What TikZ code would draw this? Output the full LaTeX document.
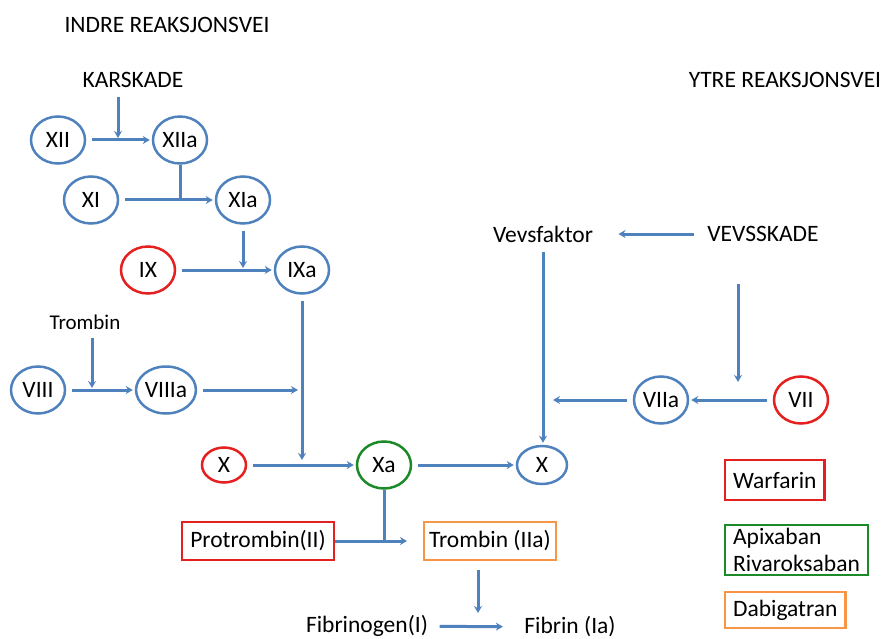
\documentclass[tikz,border=0pt]{standalone}
\usepackage{fontspec}
\setmainfont{Carlito}
\usepackage{tikz}
\usetikzlibrary{positioning,calc,arrows.meta,shapes.geometric}
\definecolor{fblue}{RGB}{79,129,189}
\definecolor{fred}{RGB}{228,32,32}
\definecolor{fgreen}{RGB}{28,138,40}
\definecolor{forange}{RGB}{247,150,70}
\tikzset{fac/.style={ellipse, draw=fblue, line width=2.5pt, minimum width=54pt, minimum height=47pt, inner sep=0pt}}
\tikzset{facred/.style={fac, draw=fred}}
\tikzset{drug/.style={draw, line width=2.2pt, inner xsep=8pt, minimum height=38pt, align=left}}
\tikzset{arr/.style={draw=fblue, line width=3pt, -{Stealth[length=7pt,width=8pt]}, shorten <=6pt, shorten >=2pt}}
\tikzset{ln/.style={draw=fblue, line width=3pt}}

\begin{document}
\begin{tikzpicture}[x=1pt, y=-1pt, every node/.append style={font=\fontsize{23.5}{27}\selectfont}]
	\useasboundingbox (0,0) rectangle (883,639);
	% headings
	\node (indre) at (167,25) {INDRE REAKSJONSVEI};
	\node (ytre) at (785,80) {YTRE REAKSJONSVEI};
	\node (kar) at (133,80) {KARSKADE};
	%
	\node[fac] (XII) at (58,140) {XII};
	\node[fac] (XIIa) at (180,140) {XIIa};
	\node[fac] (XI) at (91,200) {XI};
	\node[fac] (XIa) at (243,200) {XIa};
	\node[facred] (IX) at (148,270) {IX};
	\node[fac] (IXa) at (302,270) {IXa};
	\node[font=\fontsize{21}{24}\selectfont] (trb) at (85,322) {Trombin};
	\node[fac] (VIII) at (38,390) {VIII};
	\node[fac] (VIIIa) at (166,390) {VIIIa};
	\node[facred, minimum width=44pt, minimum height=35pt] (Xr) at (224,465) {X};
	\node[fac, draw=fgreen] (Xa) at (384,465) {Xa};
	\node[fac, minimum width=50pt, minimum height=38pt] (Xb) at (542,465) {X};
	% ytre
	\node (vevsf) at (543,234) {Vevsfaktor};
	\node (vevss) at (763,234) {VEVSSKADE};
	\node[fac] (VIIa) at (661,400) {VIIa};
	\node[facred] (VII) at (801,400) {VII};
	% felles
	\node[drug, draw=fred] (protr) at (258,541) {Protrombin(II)};
	\node[drug, draw=forange, inner xsep=5pt] (trbIIa) at (490,541) {Trombin (IIa)};
	\node (fibg) at (367,626) {Fibrinogen(I)};
	\node (fib) at (570,627) {Fibrin (Ia)};
	% legend
	\node[drug, draw=fred, anchor=west, minimum height=40pt] (warf) at (724,480) {Warfarin};
	\node[drug, draw=fgreen, anchor=west] (apix) at (724,550) {Apixaban\\Rivaroksaban};
	\node[drug, draw=forange, anchor=west, minimum height=36pt] (dabi) at (724,610) {Dabigatran};
	%
	\coordinate (k1) at (118,97);
	\coordinate (t1) at (92,338);
	\coordinate (v1) at (738,284);
	\coordinate (t2) at (478,562);
	%
	\draw[arr, shorten <=0pt] (k1) -- (k1 |- XII);
	\draw[arr] (XII) -- (XIIa);
	\draw[ln] (XIIa) -- (XIIa |- XI);
	\draw[arr] (XI) -- (XIa);
	\draw[arr] (XIa) -- (XIa |- IX);
	\draw[arr] (IX) -- (IXa);
	\draw[arr, shorten >=5pt] (IXa) -- (IXa |- Xa);
	\draw[arr, shorten <=0pt] (t1) -- (t1 |- VIII);
	\draw[arr] (VIII) -- (VIIIa);
	\draw[arr, shorten >=4pt] (VIIIa) -- (VIIIa -| IXa);
	\draw[arr] (Xr) -- (Xa);
	\draw[arr] (Xa) -- (Xb);
	%
	\draw[arr, shorten <=10pt, shorten >=22pt] (vevss) -- (vevsf);
	\draw[arr] (vevsf) -- (vevsf |- Xb.north);
	\draw[arr, shorten <=0pt, shorten >=18pt] (v1) -- (v1 |- VII);
	\draw[arr] (VII) -- (VIIa);
	\draw[arr, shorten >=10pt] (VIIa) -- (VIIa -| vevsf);
	%
	\draw[ln] (Xa) -- (Xa |- protr);
	\draw[arr, shorten <=0pt, shorten >=16pt] (protr) -- (trbIIa);
	\draw[arr, shorten <=8pt, shorten >=13pt] (t2) -- (t2 |- fibg);
	\draw[arr, shorten <=8pt, shorten >=18pt] (fibg) -- (fib);
\end{tikzpicture}
\end{document}
